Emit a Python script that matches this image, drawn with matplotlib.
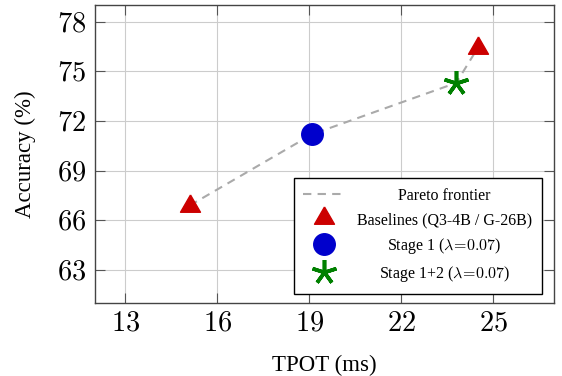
import numpy as np
import matplotlib
matplotlib.use("Agg")
import matplotlib.pyplot as plt

plt.rcParams['font.family'] = 'serif'
plt.rcParams['font.serif'] = ['Liberation Serif', 'DejaVu Serif']
plt.rcParams['mathtext.fontset'] = 'cm'

# data
base_tpot = [15.1, 24.5]
base_acc = [66.9, 76.4]
s1_tpot = [19.1]
s1_acc = [71.2]
s12_tpot = [23.8]
s12_acc = [74.3]
front_tpot = [15.1, 19.1, 23.8, 24.5]
front_acc = [66.9, 71.2, 74.3, 76.4]

xticks = [13, 16, 19, 22, 25]
yticks = [63, 66, 69, 72, 75, 78]

# equilateral triangle, centred on its centroid (like pgfplots triangle*)
tri = [(0, 1), (-0.866, -0.5), (0.866, -0.5), (0, 1)]

fig = plt.figure(figsize=(5.62, 3.76), dpi=100)
ax = fig.add_axes([0.1685, 0.1934, 0.8178, 0.7933])

ax.plot(front_tpot, front_acc, ls=(0, (4, 3)), color='#aaaaaa', lw=1.5,
        label='Pareto frontier', zorder=2)
ax.plot(base_tpot, base_acc, ls='none', marker=tri, ms=16.6, color='#cc0000',
        mec='#cc0000', label='Baselines (Q3-4B / G-26B)', zorder=3)
ax.plot(s1_tpot, s1_acc, ls='none', marker='o', ms=15.5, color='#0000cc',
        mec='#0000cc', label=r'Stage 1 ($\lambda\!=\!0.07$)', zorder=3)
ax.plot(s12_tpot, s12_acc, ls='none', marker=(5, 2, 0), ms=18, mew=2.6,
        color='#008000', label=r'Stage 1+2 ($\lambda\!=\!0.07$)', zorder=4)

ax.set_xlim(12, 27)
ax.set_ylim(61, 79)
ax.set_xticks(xticks, [f'${t}$' for t in xticks])
ax.set_yticks(yticks, [f'${t}$' for t in yticks])
ax.tick_params(direction='in', length=7, width=0.8, color='#555555',
               top=True, right=True, labelsize=20.5, pad=6)
ax.grid(True, color='#cccccc', lw=0.8)
ax.set_axisbelow(True)
for s in ax.spines.values():
    s.set_color('#444444')
    s.set_linewidth(1.0)

ax.set_xlabel('TPOT (ms)', fontsize=16.5, labelpad=13)
ax.set_ylabel('Accuracy (%)', fontsize=16.5, labelpad=15)

leg = ax.legend(loc='lower right', bbox_to_anchor=(0.9726, 0.031),
                borderaxespad=0, fontsize=11.5, handlelength=2.6,
                handletextpad=0.75, labelspacing=0.5, borderpad=0.6,
                fancybox=False, framealpha=1, edgecolor='black',
                numpoints=1, handleheight=1.0)
leg.get_frame().set_linewidth(1.0)

# centre the legend texts like the original
fig.canvas.draw()
r = fig.canvas.get_renderer()
widths = [t.get_window_extent(r).width for t in leg.get_texts()]
wmax = max(widths)
for t, w in zip(leg.get_texts(), widths):
    t.set_position(((wmax - w) / 2, 0))

fig.savefig('out.png', dpi=100)
